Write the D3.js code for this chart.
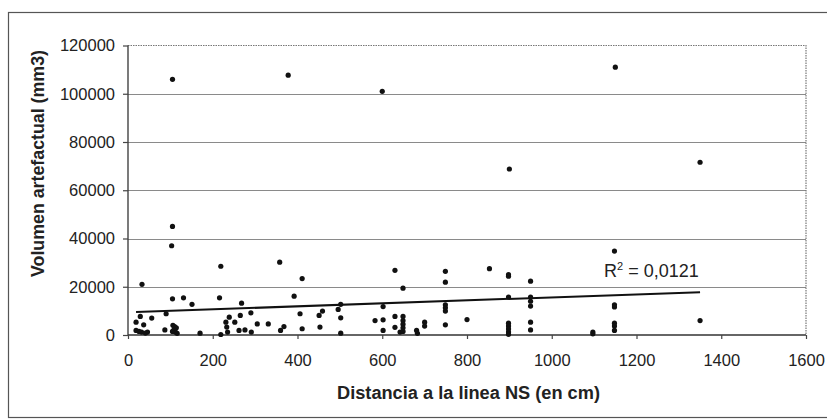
<!DOCTYPE html>
<html><head><meta charset="utf-8">
<script src="https://cdn.jsdelivr.net/npm/d3@7"></script>
<style>body{margin:0;background:#fff}svg{display:block}</style>
</head><body>
<svg id="c" width="827" height="419"></svg>
<script>
const xValues = [105,378,600,1150,900,1350,
 105,103,33,219,358,411,105,131,151,216,268,392,
 19,29,37,56,19,32,46,41,26,90,87,
 106,110,114,108,112,116,105,
 170,219,231,233,235,239,252,265,262,276,290,291,305,331,360,368,406,411,451,459,453,496,502,502,502,
 602,602,602,583,630,649,630,630,642,649,649,649,649,649,681,683,700,700,
 749,749,749,749,749,749,800,853,898,898,898,898,898,898,898,898,
 950,950,950,950,950,950,1097,1097,1148,1148,1148,1148,1148,1148,1350];
const yValues = [106000,107700,101000,111000,68800,71600,
 45000,37000,21000,28500,30200,23400,15000,15400,12700,15400,13200,16100,
 5300,7700,4200,7000,1900,1200,1200,800,1500,8800,2100,
 4000,3500,3000,2000,1200,700,1500,
 750,200,5300,3300,1200,7400,5300,8100,1900,2100,9200,1200,4600,4600,1900,3500,8800,2600,8100,9900,3300,10600,12700,7100,750,
 11800,6300,1900,6000,26800,19400,7700,3200,1200,7700,6000,4500,3000,1500,1900,700,5300,3700,
 26400,21900,12500,11300,9900,4200,6400,27500,25000,24400,15700,4900,3700,2500,1200,300,
 22300,15700,14000,12000,5300,2100,1200,500,34800,12500,11600,4900,3700,1900,6000];
const xTicks = [0,200,400,600,800,1000,1200,1400,1600];
const yTicks = [0,20000,40000,60000,80000,100000,120000];
const trendIntercept = 9400;
const trendSlope = 6.2;
const r2Label = "0,0121";
const xTitle = "Distancia a la linea NS (en cm)";
const yTitle = "Volumen artefactual (mm3)";

const svg = d3.select("#c");
const L = 128, R = 806, T = 45.5, B = 335;
const x = d3.scaleLinear().domain([0,1600]).range([L,R]);
const y = d3.scaleLinear().domain([0,120000]).range([B,T]);
const font = "'Liberation Sans', Arial, sans-serif";

// outer frame
svg.append("rect").attr("x",8.5).attr("y",12.5).attr("width",840).attr("height",405)
  .attr("fill","none").attr("stroke","#555").attr("stroke-width",1.2);

// gridlines
svg.append("g").selectAll("line").data(yTicks.filter(v=>v>0 && v<120000)).join("line")
  .attr("x1",L).attr("x2",R).attr("y1",d=>Math.round(y(d))+0.5).attr("y2",d=>Math.round(y(d))+0.5)
  .attr("stroke","#8a8a8a").attr("stroke-width",1.2);

// plot border top/right dotted
svg.append("path").attr("d",`M${L},${T}H${R}V${B}`).attr("fill","none")
  .attr("stroke","#777").attr("stroke-width",1.2).attr("stroke-dasharray","1.5,1");

// axes
const yAxis = d3.axisLeft(y).tickValues(yTicks).tickSize(5).tickPadding(8).tickFormat(d3.format("d"));
const gy = svg.append("g").attr("transform",`translate(${L},0)`).call(yAxis);
const xAxis = d3.axisBottom(x).tickValues(xTicks).tickSize(4).tickPadding(15).tickFormat(d3.format("d"));
const gx = svg.append("g").attr("transform",`translate(0,${B})`).call(xAxis);
[gx,gy].forEach(g=>{
  g.select(".domain").attr("stroke","#333").attr("stroke-width",1.3);
  g.selectAll(".tick line").attr("stroke","#444").attr("stroke-width",1.2);
  g.selectAll("text").attr("font-family",font).attr("font-size",16.5).attr("fill","#222");
});
gx.select(".domain").attr("d",`M${L},0H${R}`);
gy.select(".domain").attr("d",`M0,${T}V${B}`);

// points
svg.append("g").selectAll("circle").data(d3.zip(xValues,yValues)).join("circle")
  .attr("cx",d=>x(d[0])).attr("cy",d=>y(d[1])).attr("r",2.6).attr("fill","#111");

// trend line
const xmin = d3.min(xValues), xmax = d3.max(xValues);
svg.append("line")
  .attr("x1",x(xmin)).attr("y1",y(trendIntercept+trendSlope*xmin))
  .attr("x2",x(xmax)).attr("y2",y(trendIntercept+trendSlope*xmax))
  .attr("stroke","#111").attr("stroke-width",2);

// R2 label
const rt = svg.append("text").attr("x",604).attr("y",277).attr("font-family",font)
  .attr("font-size",18).attr("fill","#222");
rt.append("tspan").text("R");
rt.append("tspan").attr("font-size",11).attr("dy",-7).text("2");
rt.append("tspan").attr("dy",7).text(" = " + r2Label);

// axis titles
svg.append("text").attr("x",468.5).attr("y",399).attr("text-anchor","middle")
  .attr("font-family",font).attr("font-weight","bold").attr("font-size",18)
  .attr("textLength",263).attr("lengthAdjust","spacingAndGlyphs")
  .attr("fill","#222").text(xTitle);
svg.append("text").attr("transform","translate(43.5,163.5) rotate(-90)").attr("text-anchor","middle")
  .attr("font-family",font).attr("font-weight","bold").attr("font-size",18)
  .attr("textLength",227).attr("lengthAdjust","spacingAndGlyphs")
  .attr("fill","#222").text(yTitle);
</script>
</body></html>
